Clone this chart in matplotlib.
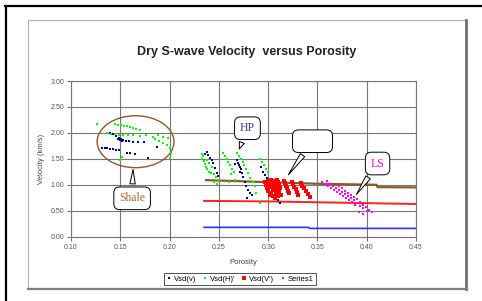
import matplotlib
matplotlib.use("Agg")
import matplotlib.pyplot as plt
from matplotlib.lines import Line2D
from matplotlib.patches import Rectangle, Ellipse

plt.rcParams['font.family'] = ['Liberation Sans', 'DejaVu Sans']

# Vsd(v) - navy points
vsd_v_x = [0.140, 0.143, 0.146, 0.149, 0.151, 0.153, 0.156, 0.159, 0.163, 0.168, 0.174,
           0.131, 0.134, 0.137, 0.140, 0.143, 0.146, 0.149, 0.157, 0.160, 0.165, 0.178, 0.187,
           0.150, 0.152, 0.148,
           0.236, 0.2376, 0.2393, 0.241, 0.2426, 0.2443, 0.246, 0.2477, 0.2494,
           0.268, 0.2697, 0.2714, 0.272, 0.273, 0.2747, 0.2765, 0.278, 0.280, 0.282, 0.284, 0.279,
           0.266, 0.270, 0.271,
           0.293, 0.295, 0.297, 0.2985, 0.3035, 0.307, 0.312, 0.310]
vsd_v_y = [1.99, 1.97, 1.94, 1.91, 1.88, 1.87, 1.85, 1.84, 1.83, 1.82, 1.83,
           1.70, 1.70, 1.70, 1.69, 1.69, 1.68, 1.68, 1.62, 1.61, 1.60, 1.52, 1.72,
           1.86, 1.84, 1.89,
           1.60, 1.64, 1.58, 1.52, 1.47, 1.42, 1.32, 1.22, 1.16,
           1.48, 1.42, 1.35, 1.30, 1.22, 1.15, 1.05, 0.98, 0.90, 0.85, 0.80, 0.75,
           1.40, 1.38, 1.25,
           1.35, 1.25, 1.19, 1.13, 0.90, 0.80, 0.64, 0.70]

# Vsd(H)' - green points
vsd_h_x = [0.126, 0.145, 0.148, 0.151, 0.154, 0.157, 0.160, 0.163, 0.166, 0.170,
           0.137, 0.141, 0.145, 0.149, 0.153, 0.158, 0.163, 0.170, 0.176, 0.183, 0.188, 0.193, 0.198,
           0.185, 0.189, 0.193, 0.197, 0.200, 0.201, 0.200, 0.152, 0.150,
           0.2326, 0.234, 0.233, 0.2345, 0.236, 0.237, 0.238, 0.240, 0.242, 0.238, 0.240, 0.243,
           0.245, 0.247, 0.250, 0.245, 0.248,
           0.254, 0.256, 0.258, 0.2595, 0.261, 0.263, 0.265, 0.262,
           0.268, 0.270, 0.272, 0.274, 0.276, 0.278, 0.280, 0.282, 0.285, 0.287,
           0.292, 0.294, 0.296, 0.298, 0.300,
           0.288, 0.292, 0.260, 0.266]
vsd_h_y = [2.18, 2.17, 2.16, 2.15, 2.14, 2.13, 2.12, 2.10, 2.08, 2.06,
           2.00, 1.98, 1.97, 1.96, 1.95, 1.96, 1.95, 1.94, 1.95, 1.93, 1.95, 1.92, 1.90,
           1.88, 1.84, 1.80, 1.76, 1.70, 1.62, 1.52, 1.54, 1.48,
           1.60, 1.55, 1.50, 1.45, 1.40, 1.35, 1.30, 1.25, 1.22, 1.48, 1.42, 1.35,
           1.20, 1.15, 1.10, 1.05, 1.02,
           1.62, 1.56, 1.50, 1.44, 1.38, 1.30, 1.24, 1.20,
           1.62, 1.56, 1.50, 1.44, 1.38, 1.30, 1.22, 1.14, 1.06, 0.98,
           1.50, 1.44, 1.38, 1.30, 1.24,
           0.84, 0.64, 1.05, 1.10]

# Vsd(V') - red points
vsd_vp_x = [0.297, 0.300, 0.303, 0.306, 0.309, 0.298, 0.301, 0.304, 0.307, 0.310,
            0.299, 0.302, 0.305, 0.308, 0.311, 0.300, 0.303, 0.306, 0.309, 0.312,
            0.302, 0.305, 0.308, 0.311, 0.307, 0.310, 0.313,
            0.316, 0.317, 0.318, 0.319, 0.320, 0.321,
            0.324, 0.325, 0.326, 0.328, 0.329, 0.330,
            0.333, 0.334, 0.336, 0.338, 0.340, 0.342]
vsd_vp_y = [1.06, 1.08, 1.10, 1.08, 1.10, 1.00, 1.02, 1.00, 1.03, 1.05,
            0.94, 0.96, 0.93, 0.97, 0.99, 0.88, 0.85, 0.90, 0.92, 0.94,
            0.80, 0.78, 0.84, 0.86, 0.74, 0.78, 0.80,
            1.08, 1.03, 0.98, 0.93, 0.88, 0.84,
            1.06, 1.01, 0.96, 0.91, 0.86, 0.81,
            1.03, 0.98, 0.93, 0.88, 0.82, 0.77]

# Series1 - magenta points
series1_x = [0.355, 0.358, 0.361, 0.364, 0.367, 0.370, 0.373, 0.376, 0.379, 0.382, 0.385, 0.388,
             0.363, 0.366, 0.369, 0.372, 0.375, 0.378, 0.381, 0.384, 0.387, 0.390, 0.393, 0.396,
             0.372, 0.375, 0.378, 0.381, 0.384, 0.387, 0.390, 0.393, 0.396, 0.399, 0.402,
             0.392, 0.396, 0.400, 0.405, 0.360]
series1_y = [1.06, 1.02, 0.98, 0.94, 0.90, 0.86, 0.82, 0.78, 0.74, 0.70, 0.66, 0.62,
             1.02, 0.98, 0.94, 0.90, 0.86, 0.82, 0.78, 0.74, 0.70, 0.65, 0.60, 0.56,
             0.97, 0.93, 0.89, 0.85, 0.80, 0.76, 0.72, 0.67, 0.62, 0.57, 0.52,
             0.48, 0.44, 0.50, 0.47, 1.08]

# trend lines
brown_x = [0.237, 0.27, 0.30, 0.35, 0.41, 0.411, 0.45]
brown_y = [1.09, 1.07, 1.05, 1.02, 1.00, 0.955, 0.95]
red_x = [0.235, 0.30, 0.36, 0.45]
red_y = [0.69, 0.68, 0.66, 0.63]
blue_x = [0.235, 0.341, 0.342, 0.45]
blue_y = [0.18, 0.18, 0.16, 0.16]

fig = plt.figure(figsize=(4.82, 3.01), dpi=100)
W, H = 482.0, 301.0

# outer frame lines
fig.add_artist(Line2D([5 / W, 1.0], [1 - 6 / H, 1 - 6 / H], color='black', lw=1.6, transform=fig.transFigure))
fig.add_artist(Line2D([6 / W, 6 / W], [0, 1 - 6 / H], color='black', lw=1.6, transform=fig.transFigure))
# chart area frame
fig.add_artist(Rectangle((28 / W, 1 - 288 / H), (466 - 28) / W, (288 - 20) / H, fill=False,
                         ec='#b0b0b0', lw=0.8, transform=fig.transFigure))
fig.add_artist(Line2D([466 / W, 466 / W], [1 - 289 / H, 1 - 20 / H], color='#707070', lw=2, transform=fig.transFigure))
fig.add_artist(Line2D([28 / W, 467 / W], [1 - 289 / H, 1 - 289 / H], color='#808080', lw=1.6, transform=fig.transFigure))

ax = fig.add_axes([71 / W, 1 - 236.7 / H, (416 - 71) / W, (236.7 - 81) / H])
ax.set_xlim(0.10, 0.45)
ax.set_ylim(0, 3.0)
ax.set_xticks([0.10, 0.15, 0.20, 0.25, 0.30, 0.35, 0.40, 0.45])
ax.set_yticks([0, 0.5, 1.0, 1.5, 2.0, 2.5, 3.0])
ax.xaxis.set_major_formatter(matplotlib.ticker.FormatStrFormatter('%.2f'))
ax.yaxis.set_major_formatter(matplotlib.ticker.FormatStrFormatter('%.2f'))
ax.tick_params(labelsize=5, labelcolor='#555555', length=3, width=0.6, color='#555555', pad=2)
ax.grid(True, color='#777777', lw=0.8)
ax.set_axisbelow(True)
for s in ax.spines.values():
    s.set_color('#777777')
    s.set_linewidth(0.8)

ax.plot(brown_x, brown_y, color='#8b5a2b', lw=1.6)
ax.plot(red_x, red_y, color='#ff2020', lw=1.4)
ax.plot(blue_x, blue_y, color='#3030ff', lw=1.2)

ax.plot(vsd_v_x, vsd_v_y, 's', color='#000080', ms=2.0, mew=0, label='Vsd(v)')
ax.plot(vsd_h_x, vsd_h_y, 's', color='#00ff00', ms=2.0, mew=0, label="Vsd(H)'")
ax.plot(vsd_vp_x, vsd_vp_y, 's', color='#ff0000', ms=3.0, mew=0, label="Vsd(V')")
ax.plot(series1_x, series1_y, 's', color='#ff00ff', ms=2.0, mew=0, label='Series1')

# shale ellipse
ax.add_patch(Ellipse((0.1655, 1.83), 0.078, 1.0, fill=False, ec='#8b5a2b', lw=1.0))

# callouts
box = dict(boxstyle='round,pad=0.45,rounding_size=0.5', fc='white', ec='black', lw=0.7)
wedge = dict(arrowstyle='wedge,tail_width=0.45,shrink_factor=0.5', fc='white', ec='black', lw=0.7)
serif = ['Liberation Serif', 'DejaVu Serif']
ax.annotate('HP', xy=(0.2697, 1.64), xytext=(0.279, 2.09), ha='center', va='center',
            fontsize=8.5, color='#3a3aa0', family=serif, bbox=box, arrowprops=wedge)
ax.annotate('\u2007\u2007\u2007\u2007\u2007', xy=(0.319, 1.15), xytext=(0.345, 1.84), ha='center', va='center',
            fontsize=8.5, family=serif, bbox=box, arrowprops=wedge)
ax.annotate('LS', xy=(0.388, 0.77), xytext=(0.411, 1.41), ha='center', va='center',
            fontsize=8.5, color='#ff00cc', family=serif, bbox=box, arrowprops=wedge)
ax.annotate('Shale', xy=(0.163, 1.35), xytext=(0.162, 0.74), ha='center', va='center',
            fontsize=8.5, color='#a0703a', family=serif, bbox=box, arrowprops=wedge)

ax.set_xlabel('Porosity', fontsize=5.5, color='#444444', labelpad=6)
ax.set_ylabel('Velocity (km/s)', fontsize=5.5, color='#444444', labelpad=4)
fig.text(247 / W, 1 - 52 / H, 'Dry S-wave Velocity  versus Porosity', ha='center', va='center',
         fontsize=9, fontweight='bold', color='#222222')

leg = ax.legend(loc='center', bbox_to_anchor=(240 / W, 1 - 279 / H), bbox_transform=fig.transFigure,
                ncol=4, fontsize=5.5, frameon=True, fancybox=False, markerscale=1.0,
                handlelength=0.6, handletextpad=0.4, columnspacing=0.8, borderpad=0.3)
leg.get_frame().set_edgecolor('black')
leg.get_frame().set_linewidth(0.6)

fig.savefig('out.png', dpi=100)
